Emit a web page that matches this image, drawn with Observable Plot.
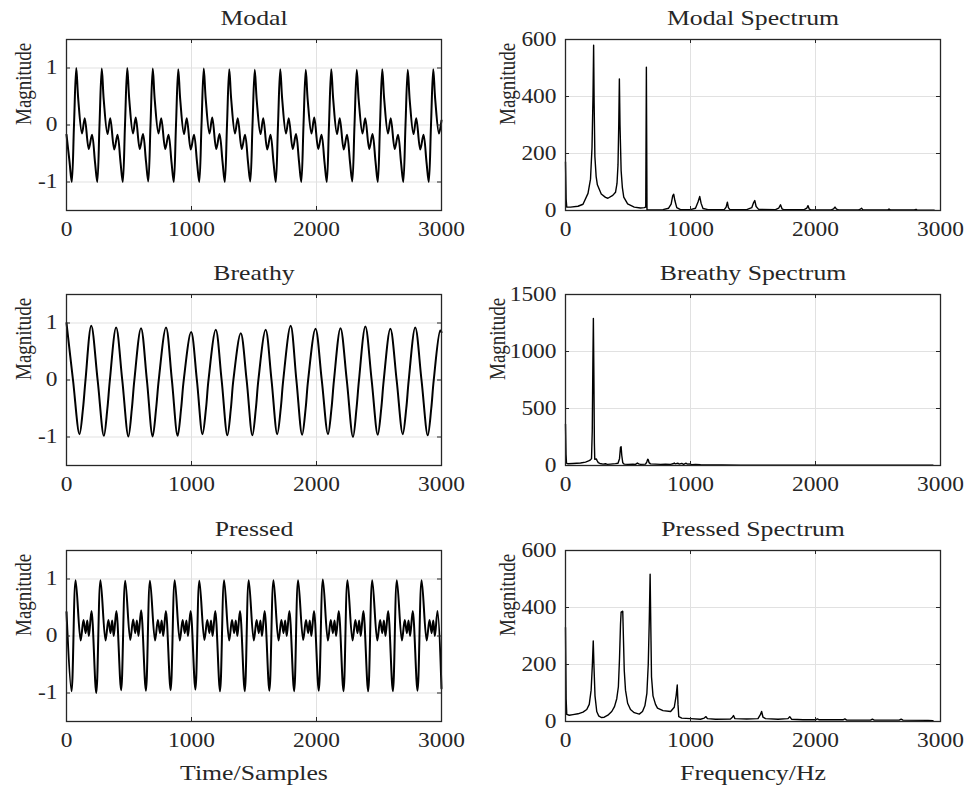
<!DOCTYPE html>
<html><head><meta charset="utf-8">
<script src="https://cdn.jsdelivr.net/npm/d3@7"></script>
<script src="https://cdn.jsdelivr.net/npm/@observablehq/plot@0.6"></script>
<style>
body{margin:0;background:#fff;}
#chart{position:relative;width:971px;height:792px;background:#fff;overflow:hidden;}
#chart svg{position:absolute;max-width:none;}
</style></head><body><div id="chart"></div>
<script>
// ---- tick values ----
const sampleTicks = [0, 1000, 2000, 3000];
const freqTicks = [0, 1000, 2000, 3000];
const waveTicks = [-1, 0, 1];
const modalSpecTicks = [0, 200, 400, 600];
const breathySpecTicks = [0, 500, 1000, 1500];
const pressedSpecTicks = [0, 200, 400, 600];

// ---- titles / labels ----
const panelTitles = ["Modal", "Modal Spectrum", "Breathy", "Breathy Spectrum", "Pressed", "Pressed Spectrum"];
const yLabel = "Magnitude";
const xLabelTime = "Time/Samples";
const xLabelFreq = "Frequency/Hz";

// ---- Modal waveform [sample, magnitude] ----
const modalWave = [[0,-0.17],[24,-0.64],[42,-1.0],[60,0.0],
[78,1.0],[94,0.45],[124,-0.15],[146,0.12],[178,-0.42],[204,-0.17],[228,-0.65],[246,-1.0],[264,0.0],
[282,0.99],[298,0.44],[328,-0.16],[350,0.12],[382,-0.43],[408,-0.17],[432,-0.65],[450,-1.0],[468,0.0],
[486,1.0],[502,0.45],[532,-0.15],[554,0.13],[586,-0.42],[612,-0.16],[636,-0.64],[654,-0.99],[672,0.0],
[690,0.99],[706,0.44],[736,-0.15],[758,0.12],[790,-0.42],[816,-0.17],[840,-0.65],[858,-1.0],[876,0.0],
[894,0.98],[910,0.44],[940,-0.16],[962,0.12],[994,-0.43],[1020,-0.17],[1044,-0.65],[1062,-1.0],[1080,0.0],
[1098,0.99],[1114,0.45],[1144,-0.15],[1166,0.13],[1198,-0.42],[1224,-0.16],[1248,-0.64],[1266,-1.0],[1284,0.0],
[1302,0.98],[1318,0.44],[1348,-0.15],[1370,0.12],[1402,-0.42],[1428,-0.17],[1452,-0.65],[1470,-0.99],[1488,0.0],
[1506,0.97],[1522,0.43],[1552,-0.16],[1574,0.12],[1606,-0.43],[1632,-0.17],[1656,-0.65],[1674,-1.0],[1692,0.0],
[1710,0.98],[1726,0.44],[1756,-0.15],[1778,0.12],[1810,-0.42],[1836,-0.16],[1860,-0.64],[1878,-1.0],[1896,0.0],
[1914,0.97],[1930,0.43],[1960,-0.15],[1982,0.13],[2014,-0.42],[2040,-0.17],[2064,-0.65],[2082,-1.0],[2100,0.0],
[2118,0.98],[2134,0.44],[2164,-0.16],[2186,0.12],[2218,-0.43],[2244,-0.17],[2268,-0.65],[2286,-0.99],[2304,0.0],
[2322,0.97],[2338,0.43],[2368,-0.15],[2390,0.12],[2422,-0.42],[2448,-0.16],[2472,-0.64],[2490,-1.0],[2508,0.0],
[2526,0.98],[2542,0.44],[2572,-0.15],[2594,0.12],[2626,-0.42],[2652,-0.17],[2676,-0.65],[2694,-1.0],[2712,0.0],
[2730,0.97],[2746,0.43],[2776,-0.16],[2798,0.12],[2830,-0.43],[2856,-0.17],[2880,-0.65],[2898,-1.0],[2916,0.0],
[2934,0.98],[2950,0.44],[2980,-0.15],[3000,0.08]];

// ---- Breathy waveform ----
const breathyWave = [[0,1.0],[52,0.0],[104,-0.95],[132,-0.5],[152,0.0],
[198,0.95],[249,0.0],[299,-0.98],[327,-0.5],[347,0.0],
[397,0.92],[446,0.0],[495,-0.99],[523,-0.5],[543,0.0],
[596,0.91],[643,0.0],[689,-0.99],[717,-0.5],[738,0.0],
[796,0.92],[843,0.0],[889,-0.98],[917,-0.5],[938,0.0],
[997,0.84],[1043,0.0],[1088,-0.95],[1116,-0.5],[1136,0.0],
[1194,0.88],[1241,0.0],[1287,-0.97],[1315,-0.5],[1335,0.0],
[1394,0.82],[1441,0.0],[1487,-0.97],[1515,-0.5],[1535,0.0],
[1593,0.88],[1640,0.0],[1686,-0.95],[1714,-0.5],[1734,0.0],
[1793,0.95],[1839,0.0],[1885,-0.96],[1913,-0.5],[1933,0.0],
[1992,0.9],[2042,0.0],[2092,-0.95],[2120,-0.5],[2140,0.0],
[2192,0.91],[2242,0.0],[2292,-1.0],[2320,-0.5],[2340,0.0],
[2391,0.94],[2441,0.0],[2490,-0.96],[2518,-0.5],[2538,0.0],
[2591,0.9],[2641,0.0],[2690,-0.95],[2718,-0.5],[2738,0.0],
[2790,0.92],[2840,0.0],[2890,-0.97],[2918,-0.5],[2938,0.0],
[2990,0.87],[3000,0.84]];

// ---- Pressed waveform ----
const pressedWave = [[0,0.42],[40,-0.97],
[73,0.98],[113,-0.08],[136,0.28],[153,0.05],[166,0.27],[179,0.0],[200,0.44],[238,-1.0],
[272,0.98],[312,-0.08],[335,0.28],[352,0.05],[365,0.27],[378,0.0],[399,0.44],[437,-0.95],
[470,0.97],[510,-0.07],[533,0.29],[550,0.05],[563,0.27],[576,0.0],[597,0.45],[635,-0.96],
[668,0.97],[708,-0.08],[731,0.28],[748,0.05],[761,0.27],[774,0.0],[795,0.44],[833,-0.95],
[866,0.98],[906,-0.08],[929,0.28],[946,0.05],[959,0.27],[972,0.0],[993,0.44],[1031,-0.94],
[1063,0.97],[1103,-0.07],[1126,0.28],[1143,0.05],[1156,0.27],[1169,0.0],[1190,0.44],[1228,-0.97],
[1261,0.98],[1301,-0.08],[1324,0.28],[1341,0.05],[1354,0.27],[1367,0.0],[1388,0.44],[1426,-0.97],
[1458,0.98],[1498,-0.08],[1521,0.28],[1538,0.05],[1551,0.27],[1564,0.0],[1585,0.44],[1623,-0.96],
[1656,0.98],[1696,-0.08],[1719,0.28],[1736,0.05],[1749,0.27],[1762,0.0],[1783,0.44],[1821,-0.97],
[1853,0.98],[1893,-0.07],[1916,0.28],[1933,0.05],[1946,0.27],[1959,0.0],[1980,0.44],[2018,-0.96],
[2051,0.99],[2091,-0.08],[2114,0.28],[2131,0.05],[2144,0.27],[2157,0.0],[2178,0.44],[2216,-0.97],
[2248,0.98],[2288,-0.08],[2311,0.28],[2328,0.05],[2341,0.27],[2354,0.0],[2375,0.44],[2413,-0.97],
[2446,0.98],[2486,-0.08],[2509,0.28],[2526,0.05],[2539,0.27],[2552,0.0],[2573,0.44],[2611,-0.97],
[2643,0.98],[2683,-0.08],[2706,0.28],[2723,0.05],[2736,0.27],[2749,0.0],[2770,0.44],[2808,-0.96],
[2841,0.98],[2881,-0.08],[2904,0.28],[2921,0.05],[2934,0.27],[2947,0.0],[2968,0.44],[3000,-0.92]];

// ---- Spectra [Hz, magnitude] ----
const modalSpec = [[0,170],[5,40],[10,12],[40,12],[100,15],[140,22],[180,60],[200,110],[212,220],[220,400],[225,580],[229,380],[235,190],[245,120],[255,90],[286,58],[320,46],[339,43],[378,53],[400,64],[412,95],[420,160],[426,300],[431,462],[436,300],[445,140],[455,80],[466,47],[497,23],[550,12],[600,9],[630,10],[642,12],[647,503],[652,2],[700,2],[780,3],[825,8],[845,22],[858,52],[866,57],[875,35],[890,10],[920,3],[1000,3],[1040,8],[1060,30],[1074,49],[1085,25],[1100,7],[1140,3],[1270,3],[1285,12],[1295,29],[1303,10],[1315,3],[1450,3],[1490,10],[1505,28],[1514,35],[1525,14],[1545,4],[1680,3],[1705,8],[1720,20],[1732,6],[1745,3],[1910,3],[1930,8],[1940,17],[1950,5],[1965,2],[2125,2],[2145,6],[2156,12],[2168,5],[2185,2],[2345,2],[2360,5],[2368,8],[2378,3],[2390,2],[2570,2],[2580,3],[2588,5],[2598,2],[2790,2],[2805,4],[2815,1],[2950,1]];

const breathySpec = [[0,363],[4,100],[8,20],[20,15],[60,18],[120,22],[160,30],[185,40],[200,50],[208,60],[214,300],[219,900],[223,1290],[227,800],[231,200],[234,55],[240,55],[246,58],[252,45],[262,25],[275,18],[300,12],[320,15],[335,10],[360,12],[380,14],[400,16],[420,20],[432,60],[440,160],[445,165],[450,90],[458,25],[470,12],[500,10],[540,12],[560,10],[575,22],[585,14],[600,10],[640,12],[650,30],[658,55],[663,48],[668,25],[680,14],[720,12],[760,10],[800,12],[840,10],[860,15],[870,22],[878,14],[900,20],[910,12],[930,18],[945,10],[965,20],[975,12],[990,14],[1010,8],[1040,10],[1080,6],[1150,4],[1250,4],[1400,3],[1600,3],[1800,2],[2000,2],[2200,2],[2400,2],[2600,2],[2800,2],[2940,2]];

const pressedSpec = [[0,330],[5,80],[10,25],[30,22],[60,24],[100,27],[140,33],[170,42],[190,60],[205,110],[215,200],[222,283],[228,190],[236,90],[250,35],[265,20],[286,14],[310,15],[339,22],[370,35],[392,52],[410,80],[423,122],[432,220],[440,340],[445,384],[458,387],[463,300],[470,180],[480,110],[497,64],[520,42],[550,31],[590,26],[616,35],[635,55],[651,99],[662,200],[670,350],[677,517],[682,350],[688,157],[700,90],[720,60],[736,47],[780,38],[841,35],[870,50],[885,90],[894,128],[900,60],[906,17],[930,12],[1000,10],[1080,8],[1110,12],[1124,17],[1135,10],[1200,8],[1320,9],[1335,15],[1344,21],[1355,10],[1450,9],[1540,10],[1560,25],[1569,35],[1580,15],[1600,10],[1700,8],[1780,10],[1794,17],[1808,8],[1900,6],[2000,6],[2015,9],[2030,6],[2220,6],[2235,9],[2250,5],[2440,5],[2455,8],[2470,5],[2670,5],[2685,8],[2700,5],[2900,4],[2940,3]];

const FONT = '"Liberation Serif", "Times New Roman", serif';
const INK = "#262626";
const STRETCH = 1.17;

function panel(o) {
  const H = o.height - o.mt - o.mb;
  const W = o.width - o.ml - o.mr;
  const rows = o.data.map(([x, y]) => ({x, y}));
  const marks = [
    Plot.gridX(o.xTicks, {stroke: "#e1e1e1", strokeOpacity: 1, strokeWidth: 1}),
    Plot.gridY(o.yTicks, {stroke: "#e1e1e1", strokeOpacity: 1, strokeWidth: 1}),
    Plot.line(rows, {x: "x", y: "y", stroke: "#000", strokeWidth: o.lw, curve: o.curve}),
    Plot.frame({stroke: INK, strokeWidth: 1.3}),
    Plot.ruleX(o.xTicks, {stroke: INK, insetTop: H - 4}),
    Plot.ruleX(o.xTicks, {stroke: INK, insetBottom: H - 4}),
    Plot.ruleY(o.yTicks, {stroke: INK, insetRight: W - 4}),
    Plot.ruleY(o.yTicks, {stroke: INK, insetLeft: W - 4}),
    Plot.axisX(o.xTicks, {tickSize: 0, tickPadding: 11, tickFormat: d => String(d), label: null, fontSize: 20, fill: INK}),
    Plot.axisY(o.yTicks, {tickSize: 0, tickPadding: 9, tickFormat: d => String(d), label: null, fontSize: 20, fill: INK}),
    Plot.text([o.title], {text: d => d, frameAnchor: "top", dy: -22, lineAnchor: "middle", fontSize: 22, fill: INK}),
    Plot.text([yLabel], {text: d => d, frameAnchor: "left", dx: -o.ylOff, rotate: -90, lineAnchor: "middle", fontSize: 19, fill: INK})
  ];
  if (o.xlabel) marks.push(Plot.text([o.xlabel], {text: d => d, frameAnchor: "bottom", dy: 51, lineAnchor: "middle", fontSize: 22, fill: INK}));
  const svg = Plot.plot({
    width: o.width, height: o.height,
    marginTop: o.mt, marginBottom: o.mb, marginLeft: o.ml, marginRight: o.mr,
    style: {fontFamily: FONT, fontSize: "20px", color: INK, background: "transparent", overflow: "visible"},
    x: {domain: [0, 3000]},
    y: {domain: o.yDomain},
    marks
  });
  svg.style.left = o.left + "px";
  svg.style.top = o.top + "px";
  svg.querySelectorAll("text").forEach(t => {
    const tr = t.getAttribute("transform");
    if (!tr) return;
    if (tr.includes("rotate")) t.setAttribute("transform", tr + " scale(1,1.2)");
    else t.setAttribute("transform", tr + ` scale(${STRETCH},1)`);
  });
  document.getElementById("chart").append(svg);
}

const L = {left: 0, width: 460, ml: 66, mr: 19, ylOff: 43, xTicks: sampleTicks, yTicks: waveTicks, yDomain: [-1.5, 1.5], curve: "catmull-rom", lw: 2};
const R = {left: 480, width: 491, ml: 85, mr: 31, xTicks: freqTicks, curve: "linear", lw: 1.4};
const rowTop = [{top: 0, height: 255, mt: 39, mb: 45}, {top: 255, height: 255, mt: 39, mb: 45}, {top: 511, height: 281, mt: 39, mb: 71}];

panel({...L, ...rowTop[0], data: modalWave, title: panelTitles[0]});
panel({...R, ...rowTop[0], data: modalSpec, title: panelTitles[1], yTicks: modalSpecTicks, yDomain: [0, 600], ylOff: 58});
panel({...L, ...rowTop[1], data: breathyWave, title: panelTitles[2]});
panel({...R, ...rowTop[1], data: breathySpec, title: panelTitles[3], yTicks: breathySpecTicks, yDomain: [0, 1500], ylOff: 68});
panel({...L, ...rowTop[2], data: pressedWave, title: panelTitles[4], xlabel: xLabelTime});
panel({...R, ...rowTop[2], data: pressedSpec, title: panelTitles[5], yTicks: pressedSpecTicks, yDomain: [0, 600], ylOff: 58, xlabel: xLabelFreq});
</script>
</body></html>
